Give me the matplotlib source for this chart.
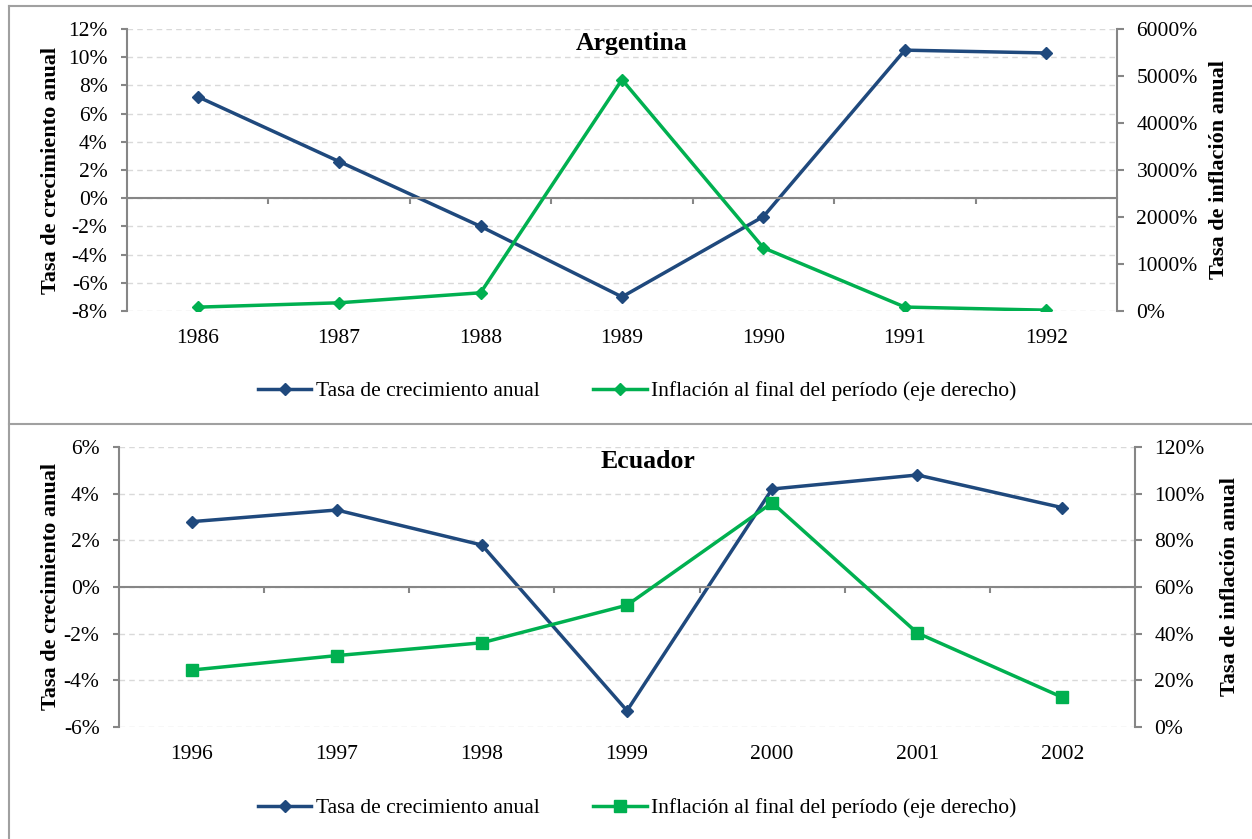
import matplotlib
matplotlib.use("Agg")
import matplotlib.pyplot as plt
from matplotlib.lines import Line2D
from matplotlib.ticker import FuncFormatter, MultipleLocator
import numpy as np

plt.rcParams['font.family'] = ['Liberation Serif', 'DejaVu Serif']

# Argentina 1986-1992
years_arg = ['1986', '1987', '1988', '1989', '1990', '1991', '1992']
crec_arg = [7.2, 2.6, -2.0, -7.0, -1.3, 10.5, 10.3]
infl_arg = [81.9, 174.8, 387.7, 4923.6, 1343.9, 84.0, 17.5]

# Ecuador 1996-2002
years_ecu = ['1996', '1997', '1998', '1999', '2000', '2001', '2002']
crec_ecu = [2.8, 3.3, 1.8, -5.3, 4.2, 4.8, 3.4]
infl_ecu = [24.4, 30.6, 36.1, 52.2, 96.1, 40.3, 12.7]

BLUE = '#1F497D'
GREEN = '#00B050'
AXIS = '#868686'
GRID = '#D9D9D9'
FS = 15.5

W, H = 1252, 839
fig = plt.figure(figsize=(W / 100, H / 100), dpi=100)


def px_rect(left, top, right, bottom):
    return [left / W, 1 - bottom / H, (right - left) / W, (bottom - top) / H]


pct = FuncFormatter(lambda v, p: f'{v:.0f}%')


def panel(rect, years, crec, infl, ylim, ystep, ylim2, ystep2, title, title_x,
          lab_left, lab_right, legend_y, infl_marker, infl_ms):
    ax = fig.add_axes(rect)
    ax2 = ax.twinx()
    x = np.arange(len(years))

    ax.set_xlim(-0.5, len(years) - 0.5)
    ax.set_ylim(*ylim)
    ax.yaxis.set_major_locator(MultipleLocator(ystep))
    ax.yaxis.set_major_formatter(pct)
    ax.grid(axis='y', color=GRID, linestyle=(0, (4, 3)), linewidth=1)
    ax.set_axisbelow(True)

    ax2.set_ylim(*ylim2)
    ax2.yaxis.set_major_locator(MultipleLocator(ystep2))
    ax2.yaxis.set_major_formatter(pct)

    for a in (ax, ax2):
        a.spines['top'].set_visible(False)
        for s in a.spines.values():
            s.set_color(AXIS)
            s.set_linewidth(1.5)
    ax.spines['right'].set_visible(False)
    ax2.spines['left'].set_visible(False)
    ax2.spines['bottom'].set_visible(False)

    # category axis crosses at zero, tick marks between categories
    ax.spines['bottom'].set_position(('data', 0))
    ax.set_xticks([])
    ax.set_xticks(np.arange(0.5, len(years) - 1, 1), minor=True)
    ax.tick_params(axis='x', which='minor', direction='out', length=4,
                   color=AXIS, width=1.5)
    sec = ax.secondary_xaxis('bottom')
    sec.set_xticks(x, years)
    sec.tick_params(length=0, pad=13, labelsize=FS)
    sec.spines['bottom'].set_visible(False)

    ax.tick_params(axis='y', direction='out', length=4, width=1.5, color=AXIS,
                   pad=10, labelsize=FS)
    ax2.tick_params(axis='y', direction='out', length=5, width=1.5, color=AXIS,
                    pad=9, labelsize=FS)

    l1, = ax.plot(x, crec, color=BLUE, linewidth=2.5, marker='D',
                  markersize=6.5, label='Tasa de crecimiento anual')
    l2, = ax2.plot(x, infl, color=GREEN, linewidth=2.5, marker=infl_marker,
                   markersize=infl_ms,
                   label='Inflación al final del período (eje derecho)')

    ax.set_ylabel('Tasa de crecimiento anual', fontsize=16, fontweight='bold')
    ax.yaxis.set_label_coords(lab_left, 0.5)
    ax2.set_ylabel('Tasa de inflación anual', fontsize=16, fontweight='bold')
    ax2.yaxis.set_label_coords(lab_right, 0.5)

    ax.text(title_x, 0.95, title, transform=ax.transAxes, ha='center',
            va='center', fontsize=18.5, fontweight='bold')

    fig.legend(handles=[l1, l2], loc='center', bbox_to_anchor=(0.509, 1 - (legend_y + 2) / H),
               ncol=2, frameon=False, fontsize=FS, handlelength=2.5,
               handletextpad=0.2, columnspacing=2.5)
    return ax


panel(px_rect(127, 29, 1117, 311), years_arg, crec_arg, infl_arg,
      (-8, 12), 2, (0, 6000), 1000, 'Argentina', 0.51,
      -0.067, 1.093, 389, 'D', 6.5)
panel(px_rect(119, 447, 1135, 727), years_ecu, crec_ecu, infl_ecu,
      (-6, 6), 2, (0, 120), 20, 'Ecuador', 0.521,
      -0.057, 1.0837, 806, 's', 8)

# outer frame of the two panels
frame = dict(color='#A0A0A0', linewidth=1.5, transform=fig.transFigure)
fig.add_artist(Line2D([9 / W, 1], [1 - 6 / H, 1 - 6 / H], **frame))
fig.add_artist(Line2D([9 / W, 9 / W], [0, 1 - 6 / H], **frame))
fig.add_artist(Line2D([9 / W, 1], [1 - 424 / H, 1 - 424 / H], **frame))

fig.savefig('out.png', dpi=100)
